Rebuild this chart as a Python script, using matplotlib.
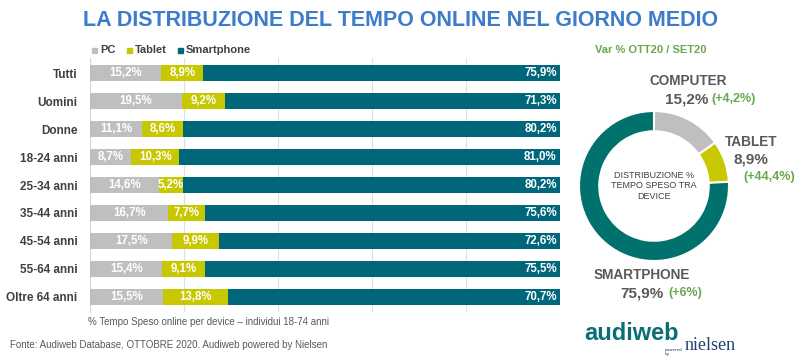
import matplotlib.pyplot as plt
from matplotlib.patches import Rectangle
import numpy as np

# data
categories = ["Tutti", "Uomini", "Donne", "18-24 anni", "25-34 anni",
              "35-44 anni", "45-54 anni", "55-64 anni", "Oltre 64 anni"]
pc = [15.2, 19.5, 11.1, 8.7, 14.6, 16.7, 17.5, 15.4, 15.5]
tablet = [8.9, 9.2, 8.6, 10.3, 5.2, 7.7, 9.9, 9.1, 13.8]
smartphone = [75.9, 71.3, 80.2, 81.0, 80.2, 75.6, 72.6, 75.5, 70.7]

donut_labels = ["COMPUTER", "TABLET", "SMARTPHONE"]
donut_vals = [15.2, 8.9, 75.9]
donut_var = ["(+4,2%)", "(+44,4%)", "(+6%)"]

c_pc = "#BFBFBF"
c_tab = "#C8C800"
c_sm = "#00677A"
c_sm_donut = "#00716C"
dark = "#404040"
green = "#6AA84F"

W, H = 800, 363
fig = plt.figure(figsize=(W / 100, H / 100), dpi=100)
fig.patch.set_facecolor("white")


def fx(x):
    return x / W


def fy(y):
    return 1 - y / H


def pct(v):
    return f"{v:.1f}%".replace(".", ",")


# title
fig.text(fx(401), fy(20), "LA DISTRIBUZIONE DEL TEMPO ONLINE NEL GIORNO MEDIO",
         ha="center", va="center", fontsize=15.5, fontweight="bold",
         color="#3C7CCB", family="Liberation Sans")

# bar chart
ax = fig.add_axes([fx(90), fy(312), fx(560) - fx(90), fy(58) - fy(312)])
y = np.arange(len(categories))
bh = 0.57
ax.barh(y, pc, height=bh, color=c_pc, zorder=3)
ax.barh(y, tablet, left=pc, height=bh, color=c_tab, zorder=3)
left2 = [a + b for a, b in zip(pc, tablet)]
ax.barh(y, smartphone, left=left2, height=bh, color=c_sm, zorder=3)

for i in range(len(categories)):
    lab = dict(color="white", fontsize=8.3, fontweight="bold", va="center",
               family="Liberation Sans", zorder=4)
    ax.text(pc[i] / 2, y[i], pct(pc[i]), ha="center", **lab)
    ax.text(pc[i] + tablet[i] / 2, y[i], pct(tablet[i]), ha="center", **lab)
    ax.text(99.3, y[i], pct(smartphone[i]), ha="right", **lab)

ax.set_xlim(0, 100)
ax.set_ylim(len(categories) - 0.5 + 0.05, -0.5 - 0.05)
ax.set_xticks([0, 20, 40, 60, 80, 100])
ax.set_xticklabels([])
ax.tick_params(length=0)
ax.grid(axis="x", color="#E0E0E0", linewidth=0.8, zorder=0)
ax.set_yticks(y)
ax.set_yticklabels(categories, fontsize=8.5, fontweight="bold", color=dark,
                   family="Liberation Sans")
ax.tick_params(axis="y", pad=9)
for s in ax.spines.values():
    s.set_visible(False)
ax.spines["left"].set_visible(True)
ax.spines["left"].set_color("#D9D9D9")

# legend
for name, col, sx in [("PC", c_pc, 92), ("Tablet", c_tab, 127), ("Smartphone", c_sm, 178)]:
    fig.patches.append(Rectangle((fx(sx), fy(53)), 5 / W, 5 / H, color=col,
                                 transform=fig.transFigure, figure=fig))
    fig.text(fx(sx + 8), fy(50), name, color=dark, fontsize=8, fontweight="bold",
             va="center", ha="left", family="Liberation Sans")

fig.text(fx(88), fy(322), "% Tempo Speso online per device \u2013 individui 18-74 anni",
         fontsize=7, color="#595959", va="center", ha="left", family="Liberation Sans")
fig.text(fx(10), fy(345), "Fonte: Audiweb Database, OTTOBRE 2020. Audiweb powered by Nielsen",
         fontsize=7, color="#595959", va="center", ha="left", family="Liberation Sans")

# donut
cx, cy, r = 654, 186, 75
ax2 = fig.add_axes([fx(cx - 80), fy(cy + 80), 160 / W, 160 / H])
ax2.pie(donut_vals, colors=[c_pc, c_tab, c_sm_donut], startangle=90,
        counterclock=False, radius=1,
        wedgeprops=dict(width=0.27, edgecolor="white", linewidth=1.5))
ax2.set_xlim(-80 / 75, 80 / 75)
ax2.set_ylim(-80 / 75, 80 / 75)
ax2.set_aspect("equal")
ax2.axis("off")
ax2.text(0, 0, "DISTRIBUZIONE %\nTEMPO SPESO TRA\nDEVICE", ha="center", va="center",
         fontsize=6.5, color=dark, linespacing=1.25, family="Liberation Sans")

fig.text(fx(595), fy(50), "Var % OTT20 / SET20", color=green, fontsize=8,
         fontweight="bold", ha="left", va="center", family="Liberation Sans")

head = dict(fontsize=9.8, fontweight="bold", color="#595959", family="Liberation Sans",
            va="center")
big = dict(fontsize=11, fontweight="bold", color="#595959", family="Liberation Sans",
           va="center")
gr = dict(fontsize=9, fontweight="bold", color=green, family="Liberation Sans",
          va="center")
fig.text(fx(650), fy(81), donut_labels[0], ha="left", **head)
fig.text(fx(665), fy(99), "15,2%", ha="left", **big)
fig.text(fx(711), fy(99), donut_var[0], ha="left", **gr)
fig.text(fx(725), fy(142), donut_labels[1], ha="left", **head)
fig.text(fx(734), fy(160), "8,9%", ha="left", **big)
fig.text(fx(743), fy(177), donut_var[1], ha="left", **gr)
fig.text(fx(594), fy(275), donut_labels[2], ha="left", **head)
fig.text(fx(620), fy(293), "75,9%", ha="left", **big)
fig.text(fx(668), fy(293), donut_var[2], ha="left", **gr)

# logo
fig.text(fx(584), fy(333), "audiweb", fontsize=17, fontweight="bold", color="#0B6E75",
         ha="left", va="center", family="Liberation Sans")
fig.text(fx(665), fy(352), "powered\nby", fontsize=3, color="#1F3F75",
         ha="left", va="center", linespacing=1.0)
fig.text(fx(685), fy(345), "nielsen", fontsize=13, color="#1F3F75",
         ha="left", va="center", family="Liberation Serif")

fig.savefig("out.png", dpi=100)
